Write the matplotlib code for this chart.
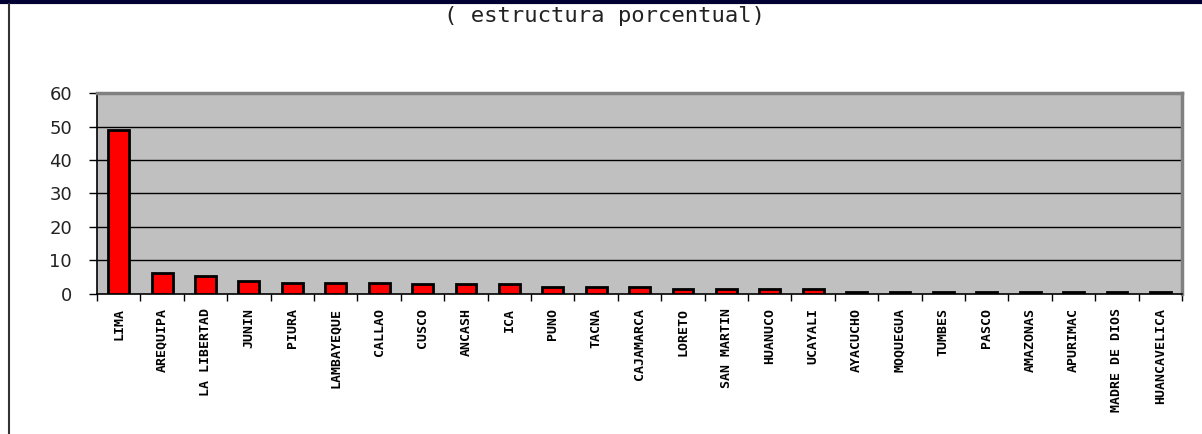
import numpy as np
import matplotlib
matplotlib.use("Agg")
import matplotlib.pyplot as plt
from matplotlib.lines import Line2D

regions = ["LIMA", "AREQUIPA", "LA LIBERTAD", "JUNIN", "PIURA", "LAMBAYEQUE",
           "CALLAO", "CUSCO", "ANCASH", "ICA", "PUNO", "TACNA", "CAJAMARCA",
           "LORETO", "SAN MARTIN", "HUANUCO", "UCAYALI", "AYACUCHO", "MOQUEGUA",
           "TUMBES", "PASCO", "AMAZONAS", "APURIMAC", "MADRE DE DIOS",
           "HUANCAVELICA"]
shares = [49.0, 6.2, 5.3, 3.9, 3.4, 3.4, 3.4, 3.0, 3.0, 3.0, 2.2, 2.2, 2.2,
          1.5, 1.5, 1.5, 1.5, 0.6, 0.6, 0.6, 0.6, 0.6, 0.6, 0.6, 0.6]
yticks = [0, 10, 20, 30, 40, 50, 60]
title = "( estructura porcentual)"

fig = plt.figure(figsize=(12.02, 4.34), dpi=100)
ax = fig.add_axes([0.0807, 0.3226, 0.9027, 0.4631])
ax.set_facecolor("#C0C0C0")

x = np.arange(len(regions))
ax.bar(x, shares, width=0.48, color="#FF0000", edgecolor="black",
       linewidth=2, zorder=3)

# gridlines
for v in yticks[1:-1]:
    ax.axhline(v, color="black", linewidth=1, zorder=1)

ax.set_xlim(-0.5, len(regions) - 0.5)
ax.set_ylim(0, 60)

# y axis
ax.set_yticks(yticks)
ax.set_yticklabels([str(v) for v in yticks], fontsize=13, color="#222222")
ax.tick_params(axis="y", direction="out", length=6, width=1, pad=12)

# x axis: ticks between categories, labels at centers
ax.set_xticks(np.arange(len(regions) + 1) - 0.5)
ax.set_xticklabels([])
ax.tick_params(axis="x", which="major", direction="out", length=5, width=1)
ax.set_xticks(x, minor=True)
ax.set_xticklabels(regions, minor=True, rotation=90, fontsize=9.5,
                   family="DejaVu Sans Mono", fontweight="bold", va="top")
ax.tick_params(axis="x", which="minor", length=0, pad=10)

# frame
ax.spines["left"].set_color("black")
ax.spines["bottom"].set_color("black")
ax.spines["left"].set_linewidth(1.2)
ax.spines["bottom"].set_linewidth(1.2)
ax.spines["top"].set_color("#808080")
ax.spines["right"].set_color("#808080")
ax.spines["top"].set_linewidth(2.5)
ax.spines["right"].set_linewidth(2.5)

fig.text(0.503, 0.962, title, ha="center", va="center", fontsize=16,
         family="DejaVu Sans Mono", color="#222222")

# page decorations from the original slide
fig.add_artist(Line2D([0, 1], [0.996, 0.996], color="#000033", linewidth=3))
fig.add_artist(Line2D([0.0079, 0.0079], [0, 0.99], color="#333333",
                      linewidth=1.5))

fig.savefig("out.png", dpi=100)
